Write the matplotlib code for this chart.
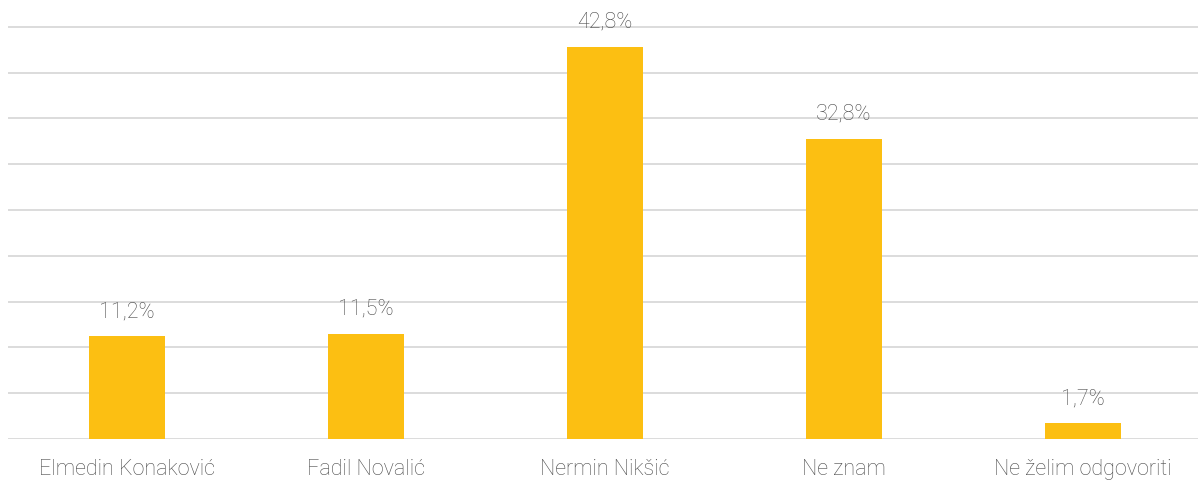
import matplotlib
matplotlib.use("Agg")
import matplotlib.pyplot as plt
from matplotlib.ticker import MultipleLocator

categories = ["Elmedin Konaković", "Fadil Novalić", "Nermin Nikšić", "Ne znam", "Ne želim odgovoriti"]
values = [11.2, 11.5, 42.8, 32.8, 1.7]
value_labels = ["11,2%", "11,5%", "42,8%", "32,8%", "1,7%"]

plt.rcParams['font.family'] = ['Roboto', 'DejaVu Sans']

fig = plt.figure(figsize=(11.98, 4.81), dpi=100)
ax = fig.add_axes([7.5/1198, 41/481, 1195/1198, (47*9.16)/481])

x = list(range(len(categories)))
ax.bar(x, values, width=0.314, color="#FCBF12", zorder=3)
ax.set_xlim(-0.5, 4.5)
ax.set_ylim(0, 47)
ax.yaxis.set_major_locator(MultipleLocator(5))
ax.grid(axis='y', color="#D9D9D9", linewidth=1.3, zorder=0)
ax.set_axisbelow(True)
for s in ax.spines.values():
    s.set_visible(False)
ax.tick_params(axis='y', left=False, labelleft=False)
ax.tick_params(axis='x', bottom=False, pad=10)
ax.set_xticks(x)
ax.set_xticklabels(categories, fontsize=15.5, color="#4a4a4a", fontweight='light')
for xi, v, lab in zip(x, values, value_labels):
    ax.annotate(lab, (xi, v), xytext=(0, 11), textcoords='offset points',
                ha='center', va='bottom', fontsize=15.5, color="#4a4a4a", fontweight='light')

fig.savefig("out.png", dpi=100)
